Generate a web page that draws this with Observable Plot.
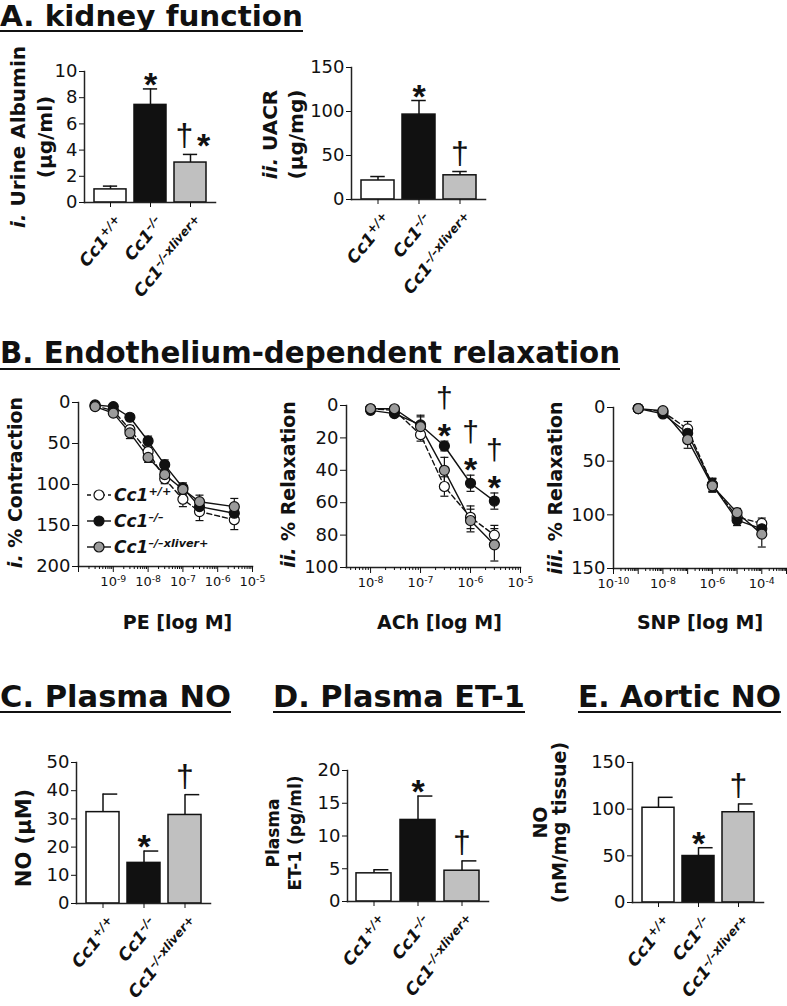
<!DOCTYPE html>
<html><head><meta charset="utf-8">
<script src="https://cdn.jsdelivr.net/npm/d3@7"></script>
<script src="https://cdn.jsdelivr.net/npm/@observablehq/plot@0.6"></script>
<style>
html,body{margin:0;padding:0;background:#fff;}
#page{position:relative;width:787px;height:1006px;overflow:hidden;font-family:"DejaVu Sans",sans-serif;color:#111;}
.title{position:absolute;font-weight:bold;white-space:nowrap;line-height:1;transform-origin:0 0;color:#111;}
.uline{position:absolute;height:2px;background:#111;}
.legend{position:absolute;font-weight:bold;font-style:italic;font-size:17px;color:#111;}
.legend .row{display:flex;align-items:center;height:26px;}
.legend sup{font-size:0.66em;vertical-align:0.55em;line-height:0;}
</style></head><body><div id="page"></div>
<script>
// ---------- DATA ----------
const groups = ["Cc1+/+", "Cc1–/–", "Cc1–/–xliver+"];
const groupColors = ["#ffffff", "#111111", "#c0c0c0"];
const seriesColors = ["#ffffff", "#111111", "#9b9b9b"];

// A. kidney function
const albuminMean = [1.0, 7.45, 3.05];
const albuminSem = [0.25, 1.22, 0.62];
const albuminStar = ["", "*", "*"];
const albuminDagger = ["", "", "†"];

const uacrMean = [21.6, 96.5, 27.5];
const uacrSem = [4.5, 16.0, 4.3];
const uacrStar = ["", "*", ""];
const uacrDagger = ["", "", "†"];

// C. Plasma NO
const plasmaNOMean = [32.4, 14.4, 31.4];
const plasmaNOSem = [6.4, 4.2, 7.2];
const plasmaNOStar = ["", "*", ""];
const plasmaNODagger = ["", "", "†"];

// D. Plasma ET-1
const et1Mean = [4.3, 12.45, 4.7];
const et1Sem = [0.55, 3.65, 1.5];
const et1Star = ["", "*", ""];
const et1Dagger = ["", "", "†"];

// E. Aortic NO
const aorticNOMean = [101.5, 49.8, 96.7];
const aorticNOSem = [11.2, 8.9, 8.9];
const aorticNOStar = ["", "*", ""];
const aorticNODagger = ["", "", "†"];

// B. relaxation curves (series order: +/+, -/-, -/-xliver+)
const peDose = [3e-10, 1e-9, 3e-9, 1e-8, 3e-8, 1e-7, 3e-7, 3e-6];
const peWT = [4, 10, 33, 60, 93, 118, 133, 143];
const peWTSem = [2, 3, 5, 5, 6, 9, 11, 12];
const peKO = [3, 5, 18, 47, 76, 104, 127, 135];
const peKOSem = [2, 2, 4, 6, 6, 6, 8, 8];
const peRes = [5, 13, 37, 67, 88, 106, 121, 127];
const peResSem = [2, 3, 7, 6, 6, 6, 8, 10];

const achDose = [1e-8, 3e-8, 1e-7, 3e-7, 1e-6, 3e-6];
const achWT = [2, 3, 18, 50, 69, 80];
const achWTSem = [1, 1, 4, 6, 7, 6];
const achKO = [3, 5, 12, 25, 48, 59];
const achKOSem = [1, 1, 5, 3, 5, 5];
const achRes = [2, 2, 13, 40, 71, 86];
const achResSem = [1, 1, 7, 8, 7, 10];
const achStar = ["", "", "", "*", "*", "*"];
const achDagger = ["", "", "", "†", "†", "†"];

const snpDose = [1e-9, 1e-8, 1e-7, 1e-6, 1e-5, 1e-4];
const snpWT = [1, 4, 20, 72, 102, 108];
const snpWTSem = [1, 2, 7, 6, 4, 5];
const snpKO = [1, 6, 24, 72, 105, 113];
const snpKOSem = [1, 2, 5, 6, 5, 5];
const snpRes = [1, 3, 30, 73, 98, 118];
const snpResSem = [1, 2, 8, 6, 4, 12];
const noSig = ["", "", "", "", "", "", "", ""];

// ---------- HELPERS ----------
const FONT = '"DejaVu Sans", sans-serif';
const SYMFONT = '"Liberation Sans", Arial, sans-serif';
const INK = "#111";
const page = document.getElementById("page");

function title(text, left, baseline, width, F, uTop) {
  const d = document.createElement("div");
  d.className = "title"; d.textContent = text; d.style.fontSize = F + "px";
  d.style.left = left + "px"; d.style.top = (baseline - 0.846 * F) + "px";
  page.appendChild(d);
  const w = d.getBoundingClientRect().width;
  d.style.transform = `scaleX(${width / w})`;
  const u = document.createElement("div");
  u.className = "uline"; u.style.left = left + "px"; u.style.top = uTop + "px"; u.style.width = width + "px";
  page.appendChild(u);
}

function postProcess(svg) {
  d3.select(svg).selectAll("text").each(function () {
    const t = d3.select(this);
    const tsp = t.selectAll("tspan");
    const nodes = tsp.empty() ? [this] : tsp.nodes();
    nodes.forEach(node => {
      const s = node.textContent;
      let m;
      if ((m = s.match(/^(i+\.)\s+(.*)$/))) {
        const n = d3.select(node); n.text(null);
        n.append("tspan").attr("font-style", "italic").text(m[1]);
        n.append("tspan").text(" " + m[2]);
      } else if ((m = s.match(/^(Cc1)(.+)$/))) {
        const n = d3.select(node); n.text(null);
        n.append("tspan").text(m[1]);
        n.append("tspan").attr("dy", "-0.5em").attr("font-size", "0.7em").text(m[2]);
      } else if ((m = s.match(/^(10)(-\d+)$/))) {
        const n = d3.select(node); n.text(null);
        n.append("tspan").text(m[1]);
        n.append("tspan").attr("dy", "-0.45em").attr("font-size", "0.72em").text(m[2]);
      }
    });
  });
}

function mount(svg, left, top) {
  svg.style.position = "absolute";
  svg.style.left = left + "px";
  svg.style.top = top + "px";
  page.appendChild(svg);
  postProcess(svg);
}

const baseStyle = {fontFamily: FONT, fontSize: "18px", color: INK, background: "transparent", overflow: "visible"};

// ---------- BAR CHARTS ----------
function barChart(c) {
  const data = groups.map((g, i) => ({g, mean: c.mean[i], top: c.mean[i] + c.sem[i], star: c.star[i], dagger: c.dagger[i]}));
  const frameW = c.w - c.ml - c.mr;
  const step = frameW / (3 - 0.2 + 0.4);
  const bw = step * 0.8;
  const capW = 15;
  const capInsetL = c.cap === "right" ? bw / 2 : (bw - capW) / 2;
  const capInsetR = c.cap === "right" ? bw / 2 - capW : (bw - capW) / 2;
  const svg = Plot.plot({
    width: c.w, height: c.h,
    marginLeft: c.ml, marginRight: c.mr, marginTop: c.mt, marginBottom: c.mb,
    style: baseStyle,
    x: {domain: groups, padding: 0.2, label: null},
    y: {domain: [0, c.ymax], label: null},
    color: {domain: groups, range: groupColors},
    marks: [
      Plot.ruleX(data, {x: "g", y1: "mean", y2: "top", stroke: INK, strokeWidth: 1.5}),
      Plot.tickY(data, {x: "g", y: "top", stroke: INK, strokeWidth: 1.5, insetLeft: capInsetL, insetRight: capInsetR}),
      Plot.barY(data, {x: "g", y: "mean", fill: "g", stroke: INK, strokeWidth: 1.5}),
      Plot.frame({anchor: "left", stroke: "#222", strokeWidth: 1.5}),
      Plot.frame({anchor: "bottom", stroke: "#222", strokeWidth: 1.5}),
      Plot.axisY({ticks: c.ticks, tickSize: 5, tickPadding: 2, fontSize: 18, label: null, tickFormat: d => String(d)}),
      Plot.axisX({tickSize: 5, tickFormat: () => "", label: null}),
      Plot.axisX({tickSize: 0, tickPadding: 17, dx: 10, tickRotate: -50, fontSize: 17, fontWeight: "bold", fontStyle: "italic", label: null}),
      Plot.text(data.filter(d => d.star && !d.dagger), {x: "g", y: "top", text: "star", fontFamily: SYMFONT, fontSize: 34, fontWeight: "bold", lineAnchor: "middle", dy: -3.5}),
      Plot.text(data.filter(d => d.dagger && !d.star), {x: "g", y: "top", text: "dagger", fontFamily: SYMFONT, fontSize: 32, lineAnchor: "middle", dy: -18}),
      Plot.text(data.filter(d => d.dagger && d.star), {x: "g", y: "top", text: "dagger", fontFamily: SYMFONT, fontSize: 32, lineAnchor: "middle", dx: -6, dy: -19}),
      Plot.text(data.filter(d => d.dagger && d.star), {x: "g", y: "top", text: "star", fontFamily: SYMFONT, fontSize: 34, fontWeight: "bold", lineAnchor: "middle", dx: 13, dy: -8.5}),
      Plot.text([c.ylabel], {frameAnchor: "left", textAnchor: "middle", lineAnchor: "middle", rotate: -90,
        fontSize: c.yfs, fontWeight: "bold", lineHeight: c.ylh, dx: c.labelX - c.ml, dy: c.labelDy})
    ]
  });
  mount(svg, c.left, c.top);
}

// ---------- DOSE-RESPONSE CHARTS ----------
const capSymbol = {draw(ctx) { ctx.moveTo(-4, 0); ctx.lineTo(4, 0); }};

function doseChart(c) {
  const rows = [];
  groups.forEach((s, k) => c.dose.forEach((x, i) => {
    const m = c.means[k][i], e = c.sems[k][i];
    rows.push({s, x, y: m, lo: m - e, hi: m + e});
  }));
  const ko = rows.filter(r => r.s === groups[1]);
  const sig = ko.map((r, i) => ({...r, star: c.star[i], dagger: c.dagger[i]})).filter(r => r.star || r.dagger);
  const [a, b] = c.domain;
  const majors = [], minors = [];
  for (let p = Math.floor(Math.log10(a)) - 1; p <= Math.ceil(Math.log10(b)); p++) {
    for (let k = 1; k < 10; k++) {
      const v = k * Math.pow(10, p);
      if (v < a * 0.999 || v > b * 1.001) continue;
      (k === 1 ? majors : minors).push(v);
    }
  }
  const svg = Plot.plot({
    width: c.w, height: c.h,
    marginLeft: c.ml, marginRight: c.mr, marginTop: c.mt, marginBottom: c.mb,
    style: baseStyle,
    x: {type: "log", domain: c.domain, label: null},
    y: {domain: [0, c.ymax], reverse: true, label: null},
    color: {domain: groups, range: seriesColors},
    marks: [
      Plot.ruleX(rows, {x: "x", y1: "lo", y2: "hi", stroke: INK, strokeWidth: 1.2}),
      Plot.dot(rows, {x: "x", y: "lo", symbol: capSymbol, fill: "none", stroke: INK, strokeWidth: 1.2}),
      Plot.dot(rows, {x: "x", y: "hi", symbol: capSymbol, fill: "none", stroke: INK, strokeWidth: 1.2}),
      Plot.line(rows.filter(r => r.s === groups[0]), {x: "x", y: "y", stroke: INK, strokeWidth: 1.4, strokeDasharray: "5,3"}),
      Plot.line(rows.filter(r => r.s === groups[1]), {x: "x", y: "y", stroke: INK, strokeWidth: 1.4}),
      Plot.line(rows.filter(r => r.s === groups[2]), {x: "x", y: "y", stroke: INK, strokeWidth: 1.4}),
      Plot.dot(rows, {x: "x", y: "y", r: 5, fill: "s", stroke: INK, strokeWidth: 1.2}),
      Plot.frame({anchor: "left", stroke: "#222", strokeWidth: 1.5}),
      Plot.frame({anchor: "bottom", stroke: "#222", strokeWidth: 1.5}),
      Plot.axisY({ticks: c.ticks, tickSize: 6, tickPadding: 2, fontSize: 18, label: null, tickFormat: d => String(d)}),
      Plot.axisX({ticks: minors, tickSize: 3, tickFormat: () => "", label: null}),
      Plot.axisX({ticks: majors, tickSize: 6, tickPadding: 4, fontSize: 13, label: null,
        tickFormat: d => { const e = Math.round(Math.log10(d)); return c.labelExps.includes(e) ? "10" + e : ""; }}),
      Plot.text(sig, {x: "x", y: "lo", text: "star", fontFamily: SYMFONT, fontSize: 34, fontWeight: "bold", lineAnchor: "middle", dy: -5}),
      Plot.text(sig, {x: "x", y: "lo", text: "dagger", fontFamily: SYMFONT, fontSize: 30, lineAnchor: "middle", dy: -43}),
      Plot.text([c.ylabel], {frameAnchor: "left", textAnchor: "middle", lineAnchor: "middle", rotate: -90,
        fontSize: 19, fontWeight: "bold", dx: c.labelX - c.ml, dy: c.labelDy}),
      Plot.text([c.xlabel], {frameAnchor: "bottom", textAnchor: "middle", lineAnchor: "top",
        fontSize: 19, fontWeight: "bold", dx: c.xlabelDx, dy: c.xlabelDy})
    ]
  });
  mount(svg, c.left, c.top);
}

// ---------- TITLES ----------
title("A. kidney function", 0, 27, 303, 28, 30);
title("B. Endothelium-dependent relaxation", 0, 363, 620, 30, 368);
title("C. Plasma NO", 0, 707.5, 231, 30, 711);
title("D. Plasma ET-1", 273, 707.5, 252, 30, 711);
title("E. Aortic NO", 578, 707.5, 203, 30, 711);

// ---------- PANELS ----------
barChart({left: 0, top: 40, w: 240, h: 270, ml: 84, mr: 25, mt: 31, mb: 108,
  mean: albuminMean, sem: albuminSem, star: albuminStar, dagger: albuminDagger,
  ymax: 10, ticks: [0, 2, 4, 6, 8, 10], cap: "center",
  ylabel: "i. Urine Albumin\n(µg/ml)", yfs: 20, ylh: 1.35, labelX: 29, labelDy: 0});

barChart({left: 250, top: 40, w: 260, h: 270, ml: 101, mr: 25, mt: 27, mb: 111,
  mean: uacrMean, sem: uacrSem, star: uacrStar, dagger: uacrDagger,
  ymax: 150, ticks: [0, 50, 100, 150], cap: "center",
  ylabel: "ii. UACR\n(µg/mg)", yfs: 20, ylh: 1.3, labelX: 31.6, labelDy: 1});

doseChart({left: 0, top: 380, w: 260, h: 270, ml: 78, mr: 8, mt: 22, mb: 84,
  dose: peDose, means: [peWT, peKO, peRes], sems: [peWTSem, peKOSem, peResSem],
  star: noSig, dagger: noSig,
  domain: [1e-10, 1e-5], ymax: 200, ticks: [0, 50, 100, 150, 200], labelExps: [-9, -8, -7, -6, -5],
  ylabel: "i. % Contraction", labelX: 15, labelDy: -2, xlabel: "PE [log M]", xlabelDx: 12, xlabelDy: 49});

doseChart({left: 262, top: 380, w: 262, h: 270, ml: 84, mr: 4, mt: 25, mb: 83,
  dose: achDose, means: [achWT, achKO, achRes], sems: [achWTSem, achKOSem, achResSem],
  star: achStar, dagger: achDagger,
  domain: [3.3e-9, 1e-5], ymax: 100, ticks: [0, 20, 40, 60, 80, 100], labelExps: [-8, -7, -6, -5],
  ylabel: "ii. % Relaxation", labelX: 26, labelDy: -2, xlabel: "ACh [log M]", xlabelDx: 6, xlabelDy: 48});

doseChart({left: 527, top: 380, w: 260, h: 270, ml: 86, mr: 1, mt: 27, mb: 82,
  dose: snpDose, means: [snpWT, snpKO, snpRes], sems: [snpWTSem, snpKOSem, snpResSem],
  star: noSig, dagger: noSig,
  domain: [1e-10, 1e-3], ymax: 150, ticks: [0, 50, 100, 150], labelExps: [-10, -8, -6, -4],
  ylabel: "iii. % Relaxation", labelX: 28, labelDy: 0, xlabel: "SNP [log M]", xlabelDx: 0, xlabelDy: 47});

barChart({left: 0, top: 730, w: 250, h: 276, ml: 76, mr: 40, mt: 32, mb: 103,
  mean: plasmaNOMean, sem: plasmaNOSem, star: plasmaNOStar, dagger: plasmaNODagger,
  ymax: 50, ticks: [0, 10, 20, 30, 40, 50], cap: "right",
  ylabel: "NO (µM)", yfs: 21, ylh: 1.2, labelX: 22.3, labelDy: 5});

barChart({left: 260, top: 730, w: 255, h: 276, ml: 87, mr: 27, mt: 40, mb: 105,
  mean: et1Mean, sem: et1Sem, star: et1Star, dagger: et1Dagger,
  ymax: 20, ticks: [0, 5, 10, 15, 20], cap: "right",
  ylabel: "Plasma\nET-1 (pg/ml)", yfs: 17, ylh: 1.3, labelX: 22.6, labelDy: -3});

barChart({left: 520, top: 730, w: 267, h: 276, ml: 112, mr: 24, mt: 32, mb: 104,
  mean: aorticNOMean, sem: aorticNOSem, star: aorticNOStar, dagger: aorticNODagger,
  ymax: 150, ticks: [0, 50, 100, 150], cap: "right",
  ylabel: "NO\n(nM/mg tissue)", yfs: 19, ylh: 1.0, labelX: 30.4, labelDy: -10});

// ---------- LEGEND (panel B i) ----------
const legendItems = [
  {label: "Cc1", sup: "+/+", fill: seriesColors[0], dash: "4,3"},
  {label: "Cc1", sup: "–/–", fill: seriesColors[1], dash: null},
  {label: "Cc1", sup: "–/–xliver+", fill: seriesColors[2], dash: null}
];
const legend = document.createElement("div");
legend.className = "legend";
legend.style.left = "86px"; legend.style.top = "482px";
legendItems.forEach(it => {
  const row = document.createElement("div"); row.className = "row";
  row.innerHTML = `<svg width="26" height="14" style="margin-right:2px"><line x1="1" x2="25" y1="7" y2="7" stroke="#111" stroke-width="1.4" ${it.dash ? `stroke-dasharray="${it.dash}"` : ""}/><circle cx="13" cy="7" r="5" fill="${it.fill}" stroke="#111" stroke-width="1.2"/></svg><span>${it.label}<sup>${it.sup}</sup></span>`;
  legend.appendChild(row);
});
page.appendChild(legend);
</script></body></html>
